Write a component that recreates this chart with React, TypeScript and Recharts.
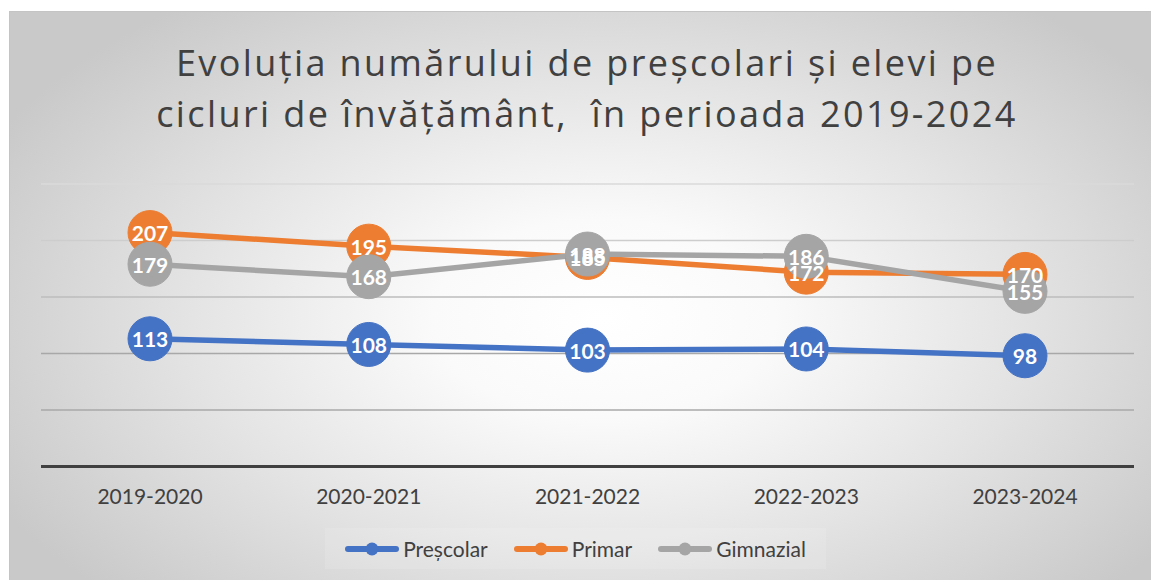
import React from 'react';
import { LineChart, Line, XAxis, YAxis, CartesianGrid } from 'recharts';

const categories = ['2019-2020', '2020-2021', '2021-2022', '2022-2023', '2023-2024'];
const prescolar = [113, 108, 103, 104, 98];
const primar = [207, 195, 185, 172, 170];
const gimnazial = [179, 168, 188, 186, 155];
const seriesNames = ['Preșcolar', 'Primar', 'Gimnazial'];
const seriesKeys = ['prescolar', 'primar', 'gimnazial'];
const seriesColors = ['#4472C4', '#ED7D31', '#A5A5A5'];
const yTicks = [0, 50, 100, 150, 200, 250];
const gridShades = ['#a8a8a8', '#a8a8a8', '#a8a8a8', '#bcbcbc', '#cdcdcd', '#dadada'];
const titleLines = ['Evoluția numărului de preșcolari și elevi pe', 'cicluri de învățământ,  în perioada 2019-2024'];

const data = categories.map((cat, i) => ({
  cat,
  prescolar: prescolar[i],
  primar: primar[i],
  gimnazial: gimnazial[i],
}));

const FONT = 'Lato, "Open Sans", sans-serif';
const W = 1142;
const H = 569;

const renderLabel = (props: any) => {
  const { x, y, value, index } = props;
  return (
    <text
      key={`l-${index}`}
      x={x}
      y={y}
      textAnchor="middle"
      dominantBaseline="central"
      fill="#ffffff"
      fontWeight={700}
      fontSize={21}
      fontFamily={FONT}
    >
      {value}
    </text>
  );
};

const renderGridLine = (props: any) => {
  const { x1, x2, y1, y2, index } = props;
  const shade = gridShades[index ?? 0] || '#bdbdbd';
  return <line key={`g-${index}`} x1={x1} x2={x2} y1={y1} y2={y2} stroke={shade} strokeWidth={1.4} />;
};

export default function App() {
  return (
    <>
      <style>{`html,body{margin:0;padding:0;overflow:hidden;background:#fff;}`}</style>
      <div
        style={{
          position: 'absolute',
          left: 9,
          top: 11,
          width: W,
          height: H,
          boxSizing: 'border-box',
          borderTop: '1px solid #c4c4c4',
          borderLeft: '1px solid #c4c4c4',
          background:
            'radial-gradient(ellipse 60% 70% at 52% 54%, #ffffff 0%, #fafafa 25%, #e4e4e4 60%, #c9c9c9 100%)',
          overflow: 'hidden',
        }}
      >
        <div
          style={{
            position: 'absolute',
            left: 0,
            width: 1154,
            top: 25,
            textAlign: 'center',
            fontFamily: '"Open Sans", Lato, sans-serif',
            fontWeight: 400,
            fontSize: 36,
            letterSpacing: 2.4,
            lineHeight: '51px',
            color: '#404040',
            whiteSpace: 'pre',
          }}
        >
          {titleLines.map((t) => (
            <div key={t}>{t}</div>
          ))}
        </div>
        <div style={{ position: 'absolute', left: 0, top: 0 }}>
          <LineChart
            width={W}
            height={H}
            data={data}
            margin={{ top: 172, right: 18, bottom: 64.5, left: 31 }}
          >
            <CartesianGrid vertical={false} horizontal={renderGridLine} />
            <YAxis hide domain={[0, 250]} ticks={yTicks} />
            <XAxis
              dataKey="cat"
              height={50}
              padding={{ left: 109, right: 109 }}
              axisLine={{ stroke: '#404040', strokeWidth: 3 }}
              tickLine={false}
              tickSize={6}
              tickMargin={17}
              tick={{ fill: '#404040', fontSize: 21, fontFamily: FONT }}
            />
            {seriesKeys.map((k, i) => (
              <Line
                key={k}
                dataKey={k}
                name={seriesNames[i]}
                stroke={seriesColors[i]}
                strokeWidth={5.5}
                dot={{ r: 22, fill: seriesColors[i], stroke: seriesColors[i], strokeWidth: 1 }}
                activeDot={false}
                isAnimationActive={false}
              />
            ))}
            {seriesKeys.map((k) => (
              <Line
                key={`lab-${k}`}
                dataKey={k}
                stroke="none"
                dot={false}
                activeDot={false}
                legendType="none"
                isAnimationActive={false}
                label={renderLabel}
              />
            ))}
          </LineChart>
        </div>
        <div
          style={{
            position: 'absolute',
            top: 516,
            left: 0,
            width: 1131,
            display: 'flex',
            justifyContent: 'center',
            fontFamily: FONT,
            fontSize: 21,
            color: '#404040',
          }}
        >
          <div style={{ display: 'flex', alignItems: 'center', padding: '8px 20px', background: 'rgba(255,255,255,0.12)' }}>
            {seriesNames.map((n, i) => (
              <div key={n} style={{ display: 'flex', alignItems: 'center', marginRight: i < 2 ? 26 : 0 }}>
                <svg width={54} height={16} style={{ marginRight: 4 }}>
                  <line x1={3} y1={8} x2={51} y2={8} stroke={seriesColors[i]} strokeWidth={6} strokeLinecap="round" />
                  <circle cx={27} cy={8} r={6.5} fill={seriesColors[i]} />
                </svg>
                <span>{n}</span>
              </div>
            ))}
          </div>
        </div>
      </div>
    </>
  );
}
